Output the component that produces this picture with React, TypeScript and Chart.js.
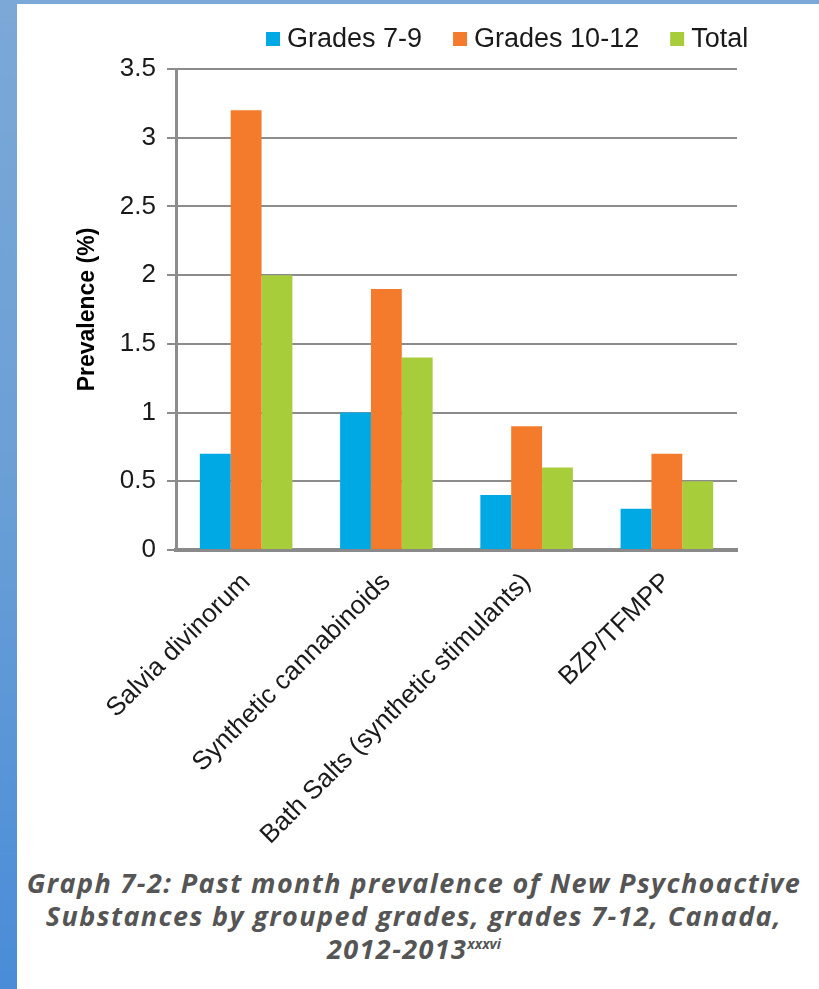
import React, { useEffect, useRef } from "react";
import { Chart, registerables } from "chart.js";

Chart.register(...registerables);

// Substance categories along the x axis
const categories = [
  "Salvia divinorum",
  "Synthetic cannabinoids",
  "Bath Salts (synthetic stimulants)",
  "BZP/TFMPP",
];

// Past-month prevalence (%) by grade group
const grades7to9 = [0.7, 1.0, 0.4, 0.3];
const grades10to12 = [3.2, 1.9, 0.9, 0.7];
const total = [2.0, 1.4, 0.6, 0.5];

const seriesNames = ["Grades 7-9", "Grades 10-12", "Total"];
const seriesColors = ["#00a9e3", "#f47b2b", "#a8cd3b"];

// Y axis range and step
const yMin = 0;
const yMax = 3.5;
const yStep = 0.5;

const FONT = "'Liberation Sans', Arial, sans-serif";

// Horizontal legend drawn above the plot
const topLegend = {
  id: "topLegend",
  afterDraw(chart: any) {
    const ctx = chart.ctx;
    ctx.save();
    ctx.font = `27px ${FONT}`;
    ctx.textBaseline = "middle";
    let x = 266;
    const y = 39;
    chart.data.datasets.forEach((ds: any) => {
      ctx.fillStyle = ds.backgroundColor;
      ctx.fillRect(x, y - 7, 14, 14);
      x += 14 + 7;
      ctx.fillStyle = "#1a1a1a";
      ctx.fillText(ds.label, x, y + 1);
      x += ctx.measureText(ds.label).width + 31;
    });
    ctx.restore();
  },
};

function PrevalenceChart() {
  const ref = useRef<HTMLCanvasElement | null>(null);

  useEffect(() => {
    if (!ref.current) return;
    const seriesValues = [grades7to9, grades10to12, total];
    const chart = new Chart(ref.current, {
      type: "bar",
      data: {
        labels: categories,
        datasets: seriesNames.map((name, i) => ({
          label: name,
          data: seriesValues[i],
          backgroundColor: seriesColors[i],
          borderWidth: 0,
          categoryPercentage: 0.66,
          barPercentage: 1,
        })),
      },
      options: {
        responsive: false,
        animation: false,
        devicePixelRatio: 1,
        layout: { padding: { left: 70, right: 82, top: 69, bottom: 0 } },
        plugins: {
          legend: { display: false },
          tooltip: { enabled: false },
        },
        scales: {
          x: {
            grid: { display: false },
            border: { display: true, color: "#8a8a8a", width: 4 },
            ticks: {
              color: "#1a1a1a",
              font: { family: FONT, size: 26 },
              maxRotation: 45,
              minRotation: 45,
              padding: 9,
              autoSkip: false,
            },
            afterFit(scale: any) {
              scale.height = 300;
            },
          },
          y: {
            min: yMin,
            max: yMax,
            grid: { color: "#8c8c8c", lineWidth: 2, tickLength: 9 },
            border: { display: true, color: "#8c8c8c", width: 3 },
            ticks: {
              stepSize: yStep,
              color: "#1a1a1a",
              font: { family: FONT, size: 26 },
              padding: 11,
              callback: (v: any) => String(Number(v)),
            },
            title: {
              display: true,
              text: "Prevalence (%)",
              color: "#000",
              font: { family: FONT, size: 23, weight: "bold" },
            },
            afterFit(scale: any) {
              scale.width = 106;
            },
          },
        },
      },
      plugins: [topLegend],
    });
    return () => chart.destroy();
  }, []);

  return (
    <canvas
      ref={ref}
      width={819}
      height={850}
      style={{ position: "absolute", left: 0, top: 0, width: 819, height: 850 }}
    />
  );
}

export default function App() {
  return (
    <div
      style={{
        position: "absolute",
        left: 0,
        top: 0,
        width: 819,
        height: 989,
        overflow: "hidden",
        background: "linear-gradient(to bottom, #7ba8d7 0%, #6a9fd6 50%, #4a8cd8 100%)",
      }}
    >
      <div
        style={{
          position: "absolute",
          left: 17,
          top: 4,
          width: 802,
          height: 985,
          background: "#ffffff",
        }}
      />
      <PrevalenceChart />
      <div
        style={{
          position: "absolute",
          left: 14,
          top: 866,
          width: 800,
          textAlign: "center",
          fontFamily: "'Open Sans', 'Noto Sans', sans-serif",
          fontWeight: 700,
          fontStyle: "italic",
          fontSize: 27,
          letterSpacing: 1.4,
          lineHeight: "33px",
          color: "#555555",
          whiteSpace: "nowrap",
        }}
      >
        <div>Graph 7-2: Past month prevalence of New Psychoactive</div>
        <div>Substances by grouped grades, grades 7-12, Canada,</div>
        <div>
          2012-2013
          <sup style={{ fontSize: 14, verticalAlign: "top", position: "relative", top: -5, letterSpacing: 0 }}>xxxvi</sup>
        </div>
      </div>
    </div>
  );
}
